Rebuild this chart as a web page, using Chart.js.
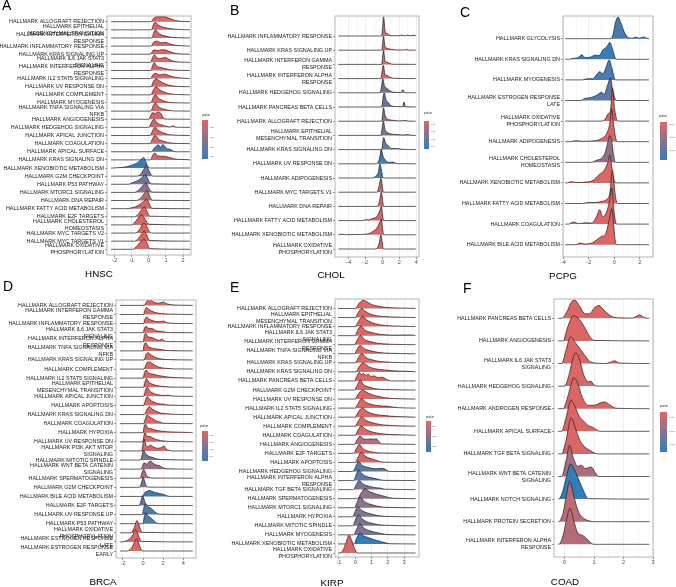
<!DOCTYPE html>
<html><head><meta charset="utf-8">
<script src="https://cdn.jsdelivr.net/npm/chart.js@4.4.1/dist/chart.umd.min.js"></script>
<style>
html,body{margin:0;padding:0;background:#fff;}
#fig{position:relative;width:676px;height:587px;overflow:hidden;font-family:'Liberation Sans',Arial,sans-serif;background:#fff;}
#fig canvas{position:absolute;}
.lt{position:absolute;font-size:14px;line-height:14px;color:#000;will-change:transform;}
.ttl{position:absolute;font-size:9.8px;line-height:9.8px;color:#000;transform:translate(-50%,-50%);white-space:nowrap;will-change:transform;}
.lgt{position:absolute;font-size:2.7px;line-height:2.7px;color:#222;white-space:nowrap;transform:translateY(-50%);will-change:transform;}
.lgl{position:absolute;font-size:2.2px;line-height:2.2px;color:#444;white-space:nowrap;transform:translateY(-50%);will-change:transform;}
.bar{position:absolute;}
</style></head><body><div id="fig"></div>
<script>
// ================= DATA =================
// ---- A : HNSC ----
const hnscLabels = ["HALLMARK ALLOGRAFT REJECTION","HALLMARK EPITHELIAL\nMESENCHYMAL TRANSITION","HALLMARK INTERFERON GAMMA\nRESPONSE","HALLMARK INFLAMMATORY RESPONSE","HALLMARK KRAS SIGNALING UP","HALLMARK IL6 JAK STAT3\nSIGNALING","HALLMARK INTERFERON ALPHA\nRESPONSE","HALLMARK IL2 STAT5 SIGNALING","HALLMARK UV RESPONSE DN","HALLMARK COMPLEMENT","HALLMARK MYOGENESIS","HALLMARK TNFA SIGNALING VIA\nNFKB","HALLMARK ANGIOGENESIS","HALLMARK HEDGEHOG SIGNALING","HALLMARK APICAL JUNCTION","HALLMARK COAGULATION","HALLMARK APICAL SURFACE","HALLMARK KRAS SIGNALING DN","HALLMARK XENOBIOTIC METABOLISM","HALLMARK G2M CHECKPOINT","HALLMARK P53 PATHWAY","HALLMARK MTORC1 SIGNALING","HALLMARK DNA REPAIR","HALLMARK FATTY ACID METABOLISM","HALLMARK E2F TARGETS","HALLMARK CHOLESTEROL\nHOMEOSTASIS","HALLMARK MYC TARGETS V2","HALLMARK MYC TARGETS V1","HALLMARK OXIDATIVE\nPHOSPHORYLATION"];
const hnscPvalue = [0.004,0.004,0.005,0.004,0.005,0.005,0.005,0.004,0.005,0.004,0.005,0.005,0.006,0.006,0.005,0.005,0.036,0.006,0.042,0.028,0.027,0.02,0.012,0.005,0.004,0.005,0.004,0.004,0.004];
const hnscRidges = [
 [[0.12,0],[0.3,0.45],[0.45,0.6],[0.7,0.62],[0.95,0.6],[1.15,0.45],[1.4,0.25],[1.7,0.08],[2.1,0.02]],
 [[0.15,0],[0.28,0.7],[0.38,0.92],[0.55,0.6],[0.8,0.35],[1.1,0.2],[1.5,0.08],[2.0,0.02]],
 [[0.18,0],[0.3,0.75],[0.4,0.98],[0.52,0.7],[0.75,0.35],[1.0,0.22],[1.4,0.06]],
 [[0.12,0],[0.3,0.5],[0.5,0.6],[0.7,0.4],[0.95,0.45],[1.2,0.3],[1.5,0.12],[2.0,0.03]],
 [[0.08,0],[0.3,0.55],[0.5,0.45],[0.75,0.55],[1.0,0.5],[1.25,0.3],[1.6,0.08],[2.0,0.02]],
 [[0.1,0],[0.22,0.6],[0.32,0.92],[0.45,0.6],[0.65,0.45],[0.95,0.6],[1.15,0.4],[1.4,0.15],[1.8,0.04]],
 [[0.12,0],[0.22,0.6],[0.32,0.95],[0.45,0.55],[0.7,0.38],[1.0,0.2],[1.4,0.05]],
 [[0.1,0],[0.25,0.5],[0.4,0.65],[0.6,0.45],[0.9,0.55],[1.15,0.4],[1.5,0.18],[1.9,0.06],[2.3,0.02]],
 [[0.12,0],[0.28,0.7],[0.42,0.98],[0.6,0.75],[0.85,0.45],[1.15,0.2],[1.6,0.05]],
 [[0.12,0],[0.28,0.65],[0.42,1.0],[0.6,0.65],[0.85,0.38],[1.2,0.14],[1.8,0.03]],
 [[0.12,0],[0.25,0.65],[0.38,1.0],[0.55,0.62],[0.8,0.3],[1.15,0.08],[1.5,0.02]],
 [[0.12,0],[0.25,0.65],[0.38,1.0],[0.55,0.55],[0.8,0.3],[1.15,0.1],[1.5,0.02]],
 [[0.0,0],[0.12,0.5],[0.22,0.8],[0.38,0.72],[0.55,0.9],[0.72,0.65],[0.85,0.15],[1.1,0.02]],
 [[0.0,0],[0.15,0.6],[0.3,1.0],[0.48,0.55],[0.75,0.3],[1.05,0.1],[1.3,0.06],[1.42,0.22],[1.52,0.03]],
 [[0.08,0],[0.22,0.6],[0.36,1.0],[0.55,0.62],[0.85,0.3],[1.2,0.1],[1.8,0.02]],
 [[0.08,0],[0.22,0.6],[0.36,1.0],[0.55,0.58],[0.85,0.3],[1.2,0.1],[1.7,0.02]],
 [[0.15,0],[0.3,0.4],[0.45,0.7],[0.56,0.85],[0.68,0.55],[0.82,0.9],[0.95,0.6],[1.1,0.35],[1.25,0.3],[1.4,0.1],[1.6,0]],
 [[0.1,0],[0.22,0.55],[0.35,0.85],[0.5,0.5],[0.7,0.45],[0.95,0.42],[1.2,0.3],[1.5,0.12],[1.9,0.05],[2.3,0.02]],
 [[-2.1,0],[-1.8,0.04],[-1.4,0.12],[-1.1,0.28],[-0.8,0.5],[-0.6,0.75],[-0.42,1.1],[-0.3,1.3],[-0.18,0.8],[-0.05,0.15],[0.1,0]],
 [[-0.7,0],[-0.45,0.3],[-0.28,0.9],[-0.14,1.27],[0.0,0.7],[0.15,0.12],[0.3,0]],
 [[-1.2,0],[-0.9,0.25],[-0.65,0.45],[-0.4,0.8],[-0.22,1.2],[-0.07,0.7],[0.12,0.05]],
 [[-0.85,0],[-0.55,0.35],[-0.32,0.9],[-0.17,1.2],[-0.02,0.6],[0.18,0.04]],
 [[-0.75,0],[-0.45,0.35],[-0.22,1.0],[-0.1,1.25],[0.04,0.6],[0.2,0.04]],
 [[-1.35,0],[-1.0,0.1],[-0.65,0.35],[-0.35,0.8],[-0.12,1.2],[0.02,0.6],[0.18,0.04]],
 [[-0.85,0],[-0.58,0.4],[-0.38,1.0],[-0.27,1.25],[-0.12,0.7],[0.05,0.08]],
 [[-1.0,0],[-0.75,0.5],[-0.52,1.1],[-0.4,1.25],[-0.22,0.7],[0.0,0.08]],
 [[-0.8,0],[-0.52,0.5],[-0.32,1.2],[-0.18,1.05],[-0.02,0.35],[0.15,0]],
 [[-0.85,0],[-0.58,0.4],[-0.38,1.0],[-0.27,1.25],[-0.12,0.7],[0.05,0.08]],
 [[-0.95,0],[-0.65,0.5],[-0.42,1.05],[-0.3,1.27],[-0.12,0.8],[0.05,0.08]]
];
const hnscSpan = [-2.2, 2.4];
const hnscXlim = [-2.44, 2.46];
const hnscTicks = [-2,-1,0,1,2];
const hnscPScale = [0.0024, 0.0425];
const hnscLegendTicks = [0.01,0.02,0.03,0.04];

// ---- B : CHOL ----
const cholLabels = ["HALLMARK INFLAMMATORY RESPONSE","HALLMARK KRAS SIGNALING UP","HALLMARK INTERFERON GAMMA\nRESPONSE","HALLMARK INTERFERON ALPHA\nRESPONSE","HALLMARK HEDGEHOG SIGNALING","HALLMARK PANCREAS BETA CELLS","HALLMARK ALLOGRAFT REJECTION","HALLMARK EPITHELIAL\nMESENCHYMAL TRANSITION","HALLMARK KRAS SIGNALING DN","HALLMARK UV RESPONSE DN","HALLMARK ADIPOGENESIS","HALLMARK MYC TARGETS V1","HALLMARK DNA REPAIR","HALLMARK FATTY ACID METABOLISM","HALLMARK XENOBIOTIC METABOLISM","HALLMARK OXIDATIVE\nPHOSPHORYLATION"];
const cholPvalue = [0.008,0.008,0.008,0.009,0.03,0.032,0.024,0.03,0.032,0.042,0.04,0.014,0.008,0.008,0.008,0.008];
const cholRidges = [
 [[-0.1,0],[0.04,0.8],[0.14,1.35],[0.26,0.5],[0.4,0.2],[0.6,0.18],[0.8,0.05],[1.2,0.02],[2.1,0.02],[2.25,0.07],[2.45,0.02],[2.8,0.02],[2.95,0.06],[3.15,0.02],[3.5,0.02],[3.8,0.07],[3.92,0.01]],
 [[-0.1,0],[0.04,0.6],[0.12,1.0],[0.28,0.3],[0.5,0.15],[0.8,0.08],[1.3,0.05],[1.6,0.02],[2.7,0.02],[2.85,0.06],[3.05,0.01]],
 [[-0.1,0],[0.04,0.7],[0.12,1.0],[0.28,0.3],[0.55,0.15],[0.9,0.06],[1.3,0.01]],
 [[-0.2,0],[-0.02,0.6],[0.1,0.95],[0.28,0.3],[0.55,0.22],[0.85,0.1],[1.5,0.02]],
 [[-0.3,0],[-0.08,0.6],[0.04,1.0],[0.22,0.5],[0.45,0.35],[0.8,0.18],[1.2,0.05],[2.2,0.02],[2.42,0.22],[2.6,0.01]],
 [[-0.1,0],[0.08,0.7],[0.2,1.0],[0.42,0.5],[0.7,0.3],[1.0,0.1],[1.5,0.03],[2.4,0.02],[2.55,0.35],[2.72,0.01]],
 [[-0.1,0],[0.04,0.6],[0.12,0.95],[0.3,0.4],[0.6,0.15],[1.0,0.08],[1.5,0.05],[2.0,0.02],[2.8,0.05],[3.0,0.01]],
 [[-0.2,0],[-0.02,0.6],[0.1,1.0],[0.3,0.4],[0.6,0.2],[1.0,0.1],[1.5,0.06],[2.0,0.05],[2.5,0.02],[3.0,0.06],[3.3,0.01]],
 [[-0.1,0],[0.05,0.6],[0.15,0.85],[0.35,0.5],[0.6,0.3],[0.8,0.2],[1.0,0.08],[1.5,0.07],[2.0,0.06],[2.3,0.02]],
 [[-0.65,0],[-0.35,0.4],[-0.15,1.0],[0.08,0.5],[0.3,0.3],[0.5,0.15],[0.8,0.1],[1.2,0.12],[1.5,0.05],[1.8,0.01]],
 [[-1.3,0],[-0.85,0.1],[-0.5,0.4],[-0.3,1.0],[-0.15,0.6],[0.0,0.1],[0.15,0]],
 [[-0.65,0],[-0.38,0.5],[-0.2,1.0],[-0.05,0.5],[0.1,0]],
 [[-0.6,0],[-0.35,0.4],[-0.15,1.0],[0.0,0.5],[0.12,0]],
 [[-2.3,0],[-1.95,0.08],[-1.6,0.05],[-1.2,0.15],[-0.85,0.2],[-0.55,0.4],[-0.32,0.7],[-0.15,1.0],[0.0,0.4],[0.12,0]],
 [[-5.2,0],[-4.9,0.05],[-4.5,0.01],[-3.0,0.02],[-1.6,0.08],[-1.25,0.2],[-0.85,0.35],[-0.55,0.6],[-0.32,0.9],[-0.15,1.1],[0.0,0.5],[0.12,0]],
 [[-1.0,0],[-0.6,0.1],[-0.4,0.4],[-0.2,1.0],[-0.05,0.5],[0.1,0]]
];
const cholSpan = [-5.25, 3.95];
const cholXlim = [-5.64, 4.33];
const cholTicks = [-4,-2,0,2,4];
const cholPScale = [0.006, 0.044];
const cholLegendTicks = [0.01,0.02,0.03,0.04];

// ---- C : PCPG ----
const pcpgLabels = ["HALLMARK GLYCOLYSIS","HALLMARK KRAS SIGNALING DN","HALLMARK MYOGENESIS","HALLMARK ESTROGEN RESPONSE\nLATE","HALLMARK OXIDATIVE\nPHOSPHORYLATION","HALLMARK ADIPOGENESIS","HALLMARK CHOLESTEROL\nHOMEOSTASIS","HALLMARK XENOBIOTIC METABOLISM","HALLMARK FATTY ACID METABOLISM","HALLMARK COAGULATION","HALLMARK BILE ACID METABOLISM"];
const pcpgPvalue = [0.0034,0.0037,0.0034,0.0031,0.0009,0.0009,0.0022,0.0009,0.0009,0.0009,0.0009];
const pcpgRidges = [
 [[-0.3,0],[-0.1,0.2],[0.1,0.8],[0.3,1.05],[0.5,0.8],[0.8,0.3],[1.1,0.05],[1.4,0.02],[1.7,0.08],[1.95,0.02],[2.3,0.08],[2.6,0.01]],
 [[-3.6,0],[-3.2,0.05],[-2.85,0.08],[-2.55,0.22],[-2.3,0.08],[-1.9,0.1],[-1.5,0.2],[-1.2,0.18],[-0.9,0.45],[-0.6,0.6],[-0.35,0.82],[-0.15,0.5],[0.05,0.1],[0.2,0]],
 [[-2.5,0],[-2.1,0.06],[-1.7,0.05],[-1.4,0.25],[-1.15,0.4],[-0.9,0.3],[-0.6,0.7],[-0.4,0.97],[-0.2,0.6],[0,0.1],[0.1,0]],
 [[-2.7,0],[-2.3,0.1],[-1.8,0.15],[-1.4,0.25],[-1.0,0.4],[-0.8,0.3],[-0.5,0.8],[-0.3,1.1],[-0.15,0.6],[0.05,0.1],[0.2,0]],
 [[-1.0,0],[-0.7,0.1],[-0.5,0.35],[-0.3,0.5],[-0.15,1.6],[-0.02,0.8],[0.1,0.3],[0.25,0]],
 [[-3.5,0],[-3.0,0.05],[-2.5,0.02],[-1.5,0.05],[-1.0,0.15],[-0.6,0.4],[-0.35,0.9],[-0.2,1.6],[-0.05,0.8],[0.1,0.2],[0.25,0]],
 [[-1.8,0],[-1.4,0.1],[-1.0,0.2],[-0.7,0.5],[-0.5,1.0],[-0.35,1.3],[-0.2,1.0],[-0.05,0.3],[0.1,0]],
 [[-3.7,0],[-3.4,0.06],[-3.0,0.02],[-2.0,0.05],[-1.5,0.2],[-1.2,0.4],[-0.8,0.6],[-0.5,1.0],[-0.35,1.35],[-0.2,0.8],[-0.05,0.2],[0.1,0]],
 [[-2.5,0],[-2,0.05],[-1.5,0.05],[-1.0,0.1],[-0.6,0.2],[-0.35,0.5],[-0.15,1.6],[0,0.8],[0.1,0.3],[0.25,0]],
 [[-3.6,0],[-3.2,0.1],[-2.8,0.02],[-2.3,0.06],[-1.8,0.05],[-1.4,0.35],[-1.15,0.7],[-0.9,0.35],[-0.6,0.6],[-0.35,1.2],[-0.2,1.75],[-0.05,0.8],[0.1,0.1],[0.2,0]],
 [[-3.0,0],[-2.7,0.08],[-2.3,0.03],[-1.7,0.1],[-1.35,0.25],[-1.0,0.4],[-0.7,0.5],[-0.4,1.2],[-0.2,1.75],[-0.05,0.9],[0.1,0.1],[0.2,0]]
];
const pcpgSpan = [-3.85, 2.73];
const pcpgXlim = [-4.03, 3.04];
const pcpgTicks = [-4,-2,0,2];
const pcpgPScale = [0.0008, 0.0038];
const pcpgLegendTicks = [0.001,0.002,0.003];

// ---- D : BRCA ----
const brcaLabels = ["HALLMARK ALLOGRAFT REJECTION","HALLMARK INTERFERON GAMMA\nRESPONSE","HALLMARK INFLAMMATORY RESPONSE","HALLMARK IL6 JAK STAT3\nSIGNALING","HALLMARK INTERFERON ALPHA\nRESPONSE","HALLMARK TNFA SIGNALING VIA\nNFKB","HALLMARK KRAS SIGNALING UP","HALLMARK COMPLEMENT","HALLMARK IL2 STAT5 SIGNALING","HALLMARK EPITHELIAL\nMESENCHYMAL TRANSITION","HALLMARK APICAL JUNCTION","HALLMARK APOPTOSIS","HALLMARK KRAS SIGNALING DN","HALLMARK COAGULATION","HALLMARK HYPOXIA","HALLMARK UV RESPONSE DN","HALLMARK PI3K AKT MTOR\nSIGNALING","HALLMARK MITOTIC SPINDLE","HALLMARK WNT BETA CATENIN\nSIGNALING","HALLMARK SPERMATOGENESIS","HALLMARK G2M CHECKPOINT","HALLMARK BILE ACID METABOLISM","HALLMARK E2F TARGETS","HALLMARK UV RESPONSE UP","HALLMARK P53 PATHWAY","HALLMARK OXIDATIVE\nPHOSPHORYLATION","HALLMARK ESTROGEN RESPONSE\nLATE","HALLMARK ESTROGEN RESPONSE\nEARLY"];
const brcaPvalue = [0.004,0.004,0.004,0.004,0.004,0.004,0.004,0.004,0.004,0.004,0.004,0.004,0.004,0.004,0.004,0.005,0.005,0.028,0.02,0.012,0.027,0.043,0.033,0.038,0.038,0.004,0.004,0.004];
const brcaRidges = [
 [[0.1,0],[0.35,0.4],[0.65,0.66],[0.9,0.45],[1.2,0.3],[1.5,0.25],[1.8,0.3],[2.05,0.38],[2.3,0.2],[2.8,0.08],[3.5,0.03],[4.5,0.01]],
 [[0.05,0],[0.2,0.5],[0.35,0.77],[0.6,0.55],[0.9,0.35],[1.3,0.2],[1.8,0.1],[2.5,0.05],[4,0.01]],
 [[0.05,0],[0.2,0.5],[0.35,0.73],[0.6,0.5],[1.0,0.3],[1.5,0.2],[2.0,0.27],[2.4,0.1],[3,0.03]],
 [[0.0,0],[0.15,0.5],[0.3,0.7],[0.5,0.5],[0.9,0.45],[1.3,0.2],[1.8,0.15],[2.2,0.05],[2.8,0.01]],
 [[0,0],[0.15,0.7],[0.25,0.95],[0.45,0.6],[0.9,0.45],[1.3,0.25],[1.6,0.15],[1.9,0.28],[2.1,0.1],[2.5,0.02]],
 [[0,0],[0.1,0.6],[0.25,0.9],[0.5,0.5],[0.9,0.3],[1.4,0.2],[2.0,0.1],[2.5,0.03]],
 [[0.1,0],[0.3,0.6],[0.5,0.8],[0.8,0.55],[1.2,0.3],[1.6,0.15],[2.2,0.05]],
 [[0.1,0],[0.35,0.6],[0.6,0.8],[0.9,0.6],[1.3,0.35],[1.8,0.15],[2.3,0.08],[3,0.02]],
 [[0,0],[0.15,0.6],[0.3,0.9],[0.5,0.6],[0.9,0.45],[1.5,0.3],[2.5,0.12],[3.5,0.05],[4.5,0.02]],
 [[0.05,0],[0.2,0.6],[0.35,0.95],[0.55,0.6],[0.9,0.35],[1.3,0.2],[2,0.08],[2.8,0.02]],
 [[0.05,0],[0.25,0.7],[0.42,1.0],[0.65,0.6],[1.0,0.35],[1.4,0.2],[2,0.1],[2.5,0.12],[3,0.03]],
 [[0.05,0],[0.25,0.6],[0.42,0.95],[0.7,0.6],[1.0,0.4],[1.5,0.2],[2.0,0.15],[2.5,0.05]],
 [[0.15,0],[0.4,0.6],[0.65,0.88],[0.9,0.6],[1.3,0.35],[1.8,0.15],[2.3,0.1],[3,0.03]],
 [[0.05,0],[0.25,0.6],[0.42,0.95],[0.7,0.7],[1.0,0.5],[1.3,0.3],[1.6,0.2],[2,0.05]],
 [[0,0],[0.1,0.6],[0.25,0.95],[0.45,0.55],[0.8,0.45],[1.2,0.3],[2,0.15],[3,0.08],[4.5,0.03]],
 [[-0.05,0],[0.1,0.7],[0.2,1.0],[0.4,0.6],[0.7,0.6],[1.0,0.4],[1.5,0.2],[2,0.1],[2.5,0.05]],
 [[-0.15,0],[0,0.8],[0.1,1.3],[0.3,0.6],[0.5,0.45],[0.72,0.65],[1.0,0.45],[1.4,0.3],[1.8,0.35],[2.08,0.55],[2.3,0.2],[2.6,0.05],[3,0]],
 [[-0.25,0],[-0.1,0.5],[0.05,1.1],[0.25,0.7],[0.5,0.45],[0.9,0.3],[1.3,0.15],[1.8,0.05]],
 [[-0.2,0],[0,0.5],[0.15,0.7],[0.35,0.55],[0.6,0.8],[0.75,0.9],[1.0,0.65],[1.3,0.45],[1.6,0.4],[1.9,0.2],[2.3,0.05]],
 [[-0.3,0],[-0.1,0.6],[0.05,1.0],[0.2,0.7],[0.35,0.3],[0.6,0.1],[0.9,0.02]],
 [[-0.35,0],[-0.15,0.5],[0,1.1],[0.15,0.7],[0.3,0.2],[0.5,0.02]],
 [[0,0],[0.15,0.4],[0.35,0.55],[0.65,0.66],[0.9,0.55],[1.3,0.4],[1.7,0.3],[2.1,0.2],[2.4,0.05],[2.8,0]],
 [[-0.4,0],[-0.2,0.5],[-0.05,1.1],[0.1,0.7],[0.25,0.2],[0.45,0]],
 [[-0.1,0],[0.1,0.8],[0.25,1.2],[0.45,0.9],[0.7,0.75],[1.0,0.5],[1.3,0.2],[1.6,0.05]],
 [[0,0],[0.1,0.6],[0.25,1.2],[0.45,0.9],[0.7,0.7],[1.0,0.4],[1.3,0.1],[1.6,0]],
 [[-1.2,0],[-0.9,0.5],[-0.6,1.35],[-0.45,1.0],[-0.3,0.5],[-0.1,0.05]],
 [[-2.1,0],[-1.7,0.1],[-1.3,0.35],[-1.0,0.8],[-0.75,1.35],[-0.55,1.0],[-0.35,0.4],[-0.15,0.05]],
 [[-1.6,0],[-1.3,0.15],[-1.0,0.6],[-0.8,1.1],[-0.62,1.35],[-0.45,0.9],[-0.25,0.3],[-0.05,0]]
];
const brcaSpan = [-2.3, 4.95];
const brcaXlim = [-2.69, 5.27];
const brcaTicks = [-2,0,2,4];
const brcaPScale = [0.003, 0.046];
const brcaLegendTicks = [0.01,0.02,0.03,0.04];

// ---- E : KIRP ----
const kirpLabels = ["HALLMARK ALLOGRAFT REJECTION","HALLMARK EPITHELIAL\nMESENCHYMAL TRANSITION","HALLMARK INFLAMMATORY RESPONSE","HALLMARK IL6 JAK STAT3\nSIGNALING","HALLMARK INTERFERON GAMMA\nRESPONSE","HALLMARK TNFA SIGNALING VIA\nNFKB","HALLMARK KRAS SIGNALING UP","HALLMARK KRAS SIGNALING DN","HALLMARK PANCREAS BETA CELLS","HALLMARK G2M CHECKPOINT","HALLMARK UV RESPONSE DN","HALLMARK IL2 STAT5 SIGNALING","HALLMARK APICAL JUNCTION","HALLMARK COMPLEMENT","HALLMARK COAGULATION","HALLMARK ANGIOGENESIS","HALLMARK E2F TARGETS","HALLMARK APOPTOSIS","HALLMARK HEDGEHOG SIGNALING","HALLMARK INTERFERON ALPHA\nRESPONSE","HALLMARK TGF BETA SIGNALING","HALLMARK SPERMATOGENESIS","HALLMARK MTORC1 SIGNALING","HALLMARK HYPOXIA","HALLMARK MITOTIC SPINDLE","HALLMARK MYOGENESIS","HALLMARK XENOBIOTIC METABOLISM","HALLMARK OXIDATIVE\nPHOSPHORYLATION"];
const kirpPvalue = [0.005,0.005,0.005,0.005,0.005,0.005,0.005,0.005,0.005,0.005,0.005,0.005,0.005,0.005,0.005,0.013,0.006,0.006,0.029,0.029,0.023,0.019,0.02,0.022,0.023,0.022,0.037,0.005];
const kirpRidges = [
 [[0,0],[0.25,0.6],[0.5,0.92],[0.75,0.7],[1.0,0.45],[1.4,0.25],[2,0.1],[3,0.04],[3.6,0.02]],
 [[0,0],[0.2,0.6],[0.4,1.0],[0.6,0.7],[0.9,0.4],[1.3,0.2],[2,0.08],[3,0.03]],
 [[0,0],[0.2,0.6],[0.45,1.1],[0.7,0.75],[1.0,0.45],[1.5,0.2],[2.2,0.08],[3,0.03]],
 [[0,0],[0.15,0.6],[0.35,1.07],[0.6,0.6],[1.0,0.35],[1.5,0.15],[2.5,0.06],[3.4,0.08],[3.65,0.02]],
 [[-0.05,0],[0.15,0.6],[0.32,1.03],[0.55,0.6],[0.9,0.35],[1.4,0.15],[2.2,0.05]],
 [[-0.05,0],[0.12,0.5],[0.3,0.92],[0.55,0.55],[0.9,0.35],[1.4,0.15],[2.2,0.05]],
 [[0,0],[0.2,0.6],[0.4,1.03],[0.65,0.6],[1.0,0.35],[1.5,0.15],[2.3,0.05]],
 [[0.05,0],[0.25,0.6],[0.5,1.0],[0.8,0.6],[1.2,0.35],[1.8,0.2],[2.5,0.1],[3.5,0.04]],
 [[-0.05,0],[0.1,0.5],[0.25,0.96],[0.38,0.7],[0.5,0.85],[0.65,0.6],[0.8,0.75],[0.95,0.5],[1.2,0.55],[1.4,0.35],[1.6,0.4],[1.8,0.3],[2.0,0.1],[2.2,0]],
 [[-0.05,0],[0.15,0.6],[0.3,1.1],[0.5,0.6],[0.8,0.35],[1.2,0.15],[1.8,0.05]],
 [[0,0],[0.2,0.6],[0.45,1.0],[0.7,0.75],[1.0,0.5],[1.4,0.3],[1.8,0.15],[2.4,0.05]],
 [[0,0],[0.2,0.6],[0.4,1.03],[0.65,0.65],[1.0,0.4],[1.5,0.25],[2.0,0.2],[2.6,0.05]],
 [[0,0],[0.2,0.6],[0.45,1.03],[0.7,0.65],[1.0,0.4],[1.4,0.25],[1.7,0.2],[2.2,0.1],[3,0.04]],
 [[0,0],[0.2,0.6],[0.4,1.03],[0.65,0.65],[1.0,0.4],[1.5,0.2],[2,0.1],[2.5,0.05]],
 [[0,0],[0.18,0.6],[0.37,1.03],[0.6,0.7],[0.9,0.45],[1.3,0.25],[2,0.1],[3,0.04]],
 [[-0.05,0],[0.12,0.5],[0.3,0.92],[0.5,0.6],[0.7,0.55],[0.9,0.6],[1.1,0.55],[1.3,0.6],[1.45,0.3],[1.6,0.05]],
 [[-0.1,0],[0.1,0.6],[0.25,1.0],[0.45,0.55],[0.7,0.3],[1.0,0.15],[1.5,0.05]],
 [[0,0],[0.18,0.6],[0.37,1.14],[0.6,0.7],[0.9,0.45],[1.2,0.3],[1.5,0.1],[1.8,0.03]],
 [[-0.15,0],[0.05,0.6],[0.2,1.14],[0.4,0.7],[0.7,0.5],[1.0,0.35],[1.3,0.3],[1.6,0.35],[1.8,0.3],[1.95,0.1],[2.1,0]],
 [[-0.1,0],[0.05,0.6],[0.22,1.18],[0.4,0.75],[0.7,0.45],[1.0,0.3],[1.3,0.2],[1.5,0.1],[1.8,0.02]],
 [[-0.1,0],[0.08,0.6],[0.25,1.0],[0.45,0.65],[0.7,0.45],[1.0,0.3],[1.3,0.2],[1.6,0.15],[1.8,0.05]],
 [[0.15,0],[0.35,0.6],[0.6,1.1],[0.85,0.8],[1.2,0.55],[1.6,0.35],[1.9,0.2],[2.3,0.05]],
 [[-0.05,0],[0.12,0.6],[0.3,1.18],[0.55,0.7],[0.9,0.4],[1.3,0.2],[1.8,0.05]],
 [[-0.15,0],[0,0.6],[0.15,1.1],[0.4,0.7],[0.7,0.45],[1.1,0.25],[1.5,0.1],[2,0.03]],
 [[-0.15,0],[0,0.6],[0.2,1.25],[0.4,0.8],[0.7,0.45],[1.1,0.25],[1.6,0.08]],
 [[-0.1,0],[0.08,0.6],[0.28,1.25],[0.5,0.8],[0.8,0.5],[1.2,0.3],[1.6,0.15],[2,0.03]],
 [[-0.05,0],[0.08,0.6],[0.3,1.2],[0.5,0.9],[0.8,0.7],[1.1,0.5],[1.5,0.3],[1.8,0.15],[2.1,0.02]],
 [[-0.95,0],[-0.75,0.3],[-0.55,1.2],[-0.38,1.95],[-0.2,1.3],[-0.05,0.5],[0.1,0.05],[0.2,0]]
];
const kirpSpan = [-1.05, 3.7];
const kirpXlim = [-1.24, 3.91];
const kirpTicks = [-1,0,1,2,3];
const kirpPScale = [0.004, 0.037];
const kirpLegendTicks = [0.01,0.02,0.03];

// ---- F : COAD ----
const coadLabels = ["HALLMARK PANCREAS BETA CELLS","HALLMARK ANGIOGENESIS","HALLMARK IL6 JAK STAT3\nSIGNALING","HALLMARK HEDGEHOG SIGNALING","HALLMARK ANDROGEN RESPONSE","HALLMARK APICAL SURFACE","HALLMARK TGF BETA SIGNALING","HALLMARK WNT BETA CATENIN\nSIGNALING","HALLMARK NOTCH SIGNALING","HALLMARK PROTEIN SECRETION","HALLMARK INTERFERON ALPHA\nRESPONSE"];
const coadPvalue = [0.0007,0.0007,0.0007,0.0007,0.0007,0.0007,0.0007,0.0015,0.0036,0.0012,0.00135];
const coadRidges = [
 [[-0.1,0],[0.1,0.35],[0.22,0.7],[0.34,0.81],[0.5,0.55],[0.7,0.2],[0.85,0.2],[1.0,0.45],[1.17,0.57],[1.3,0.4],[1.45,0.22],[1.6,0.08],[1.9,0.02],[2.3,0.01],[2.45,0.1],[2.55,0.15],[2.7,0.03],[2.85,0]],
 [[-0.05,0],[0.1,0.6],[0.3,1.12],[0.5,0.95],[0.7,0.55],[0.85,0.2],[1.0,0.02]],
 [[-0.1,0],[0.05,0.6],[0.2,1.18],[0.38,0.9],[0.55,0.6],[0.75,0.25],[0.9,0.05],[1.4,0],[1.55,0.05],[1.7,0.12],[1.85,0.02]],
 [[0,0],[0.15,0.5],[0.3,1.3],[0.38,1.47],[0.5,1.2],[0.65,0.5],[0.8,0.2],[0.9,0.2],[1.0,0.05],[1.1,0]],
 [[-0.05,0],[0.1,0.5],[0.25,1.2],[0.32,1.37],[0.45,1.1],[0.6,0.5],[0.8,0.15],[1.0,0.15],[1.2,0.25],[1.35,0.3],[1.55,0.15],[1.75,0.02]],
 [[-0.1,0],[0.05,0.6],[0.22,1.38],[0.35,1.1],[0.5,0.65],[0.65,0.45],[0.8,0.25],[0.95,0.18],[1.1,0.05],[1.2,0]],
 [[-0.1,0],[0.05,0.6],[0.22,1.6],[0.35,1.2],[0.5,0.65],[0.65,0.35],[0.8,0.2],[1.0,0.05],[1.1,0]],
 [[-0.1,0],[0.05,0.7],[0.17,1.38],[0.3,0.8],[0.45,0.45],[0.57,0.5],[0.7,0.35],[0.9,0.42],[1.05,0.15],[1.15,0]],
 [[-0.2,0],[-0.05,0.4],[0.1,1.2],[0.2,1.55],[0.35,1.25],[0.5,0.8],[0.65,0.35],[0.8,0.02]],
 [[-0.2,0],[-0.05,0.4],[0.08,1.3],[0.17,1.8],[0.3,1.2],[0.45,0.5],[0.6,0.2],[0.8,0.05],[1.0,0]],
 [[-0.2,0],[-0.05,0.4],[0.1,1.3],[0.18,1.6],[0.3,1.1],[0.45,0.5],[0.6,0.4],[0.75,0.25],[0.9,0.05],[1.0,0]]
];
const coadSpan = [-0.22, 2.88];
const coadXlim = [-0.36, 3.0];
const coadTicks = [0,1,2,3];
const coadPScale = [0.0006, 0.0036];
const coadLegendTicks = [0.001,0.002,0.003];

// ================= LAYOUT (positions / styles) =================
const LOW = [224,102,99], HIGH = [50,126,186];
const panels = [
 {letter:'A', title:'HNSC', labels:hnscLabels, pvalue:hnscPvalue, ridges:hnscRidges, span:hnscSpan, xlim:hnscXlim, ticks:hnscTicks, minor:0.5, pscale:hnscPScale, lticks:hnscLegendTicks,
  g:{left:0, top:8, L:107, T:16, R:191, B:255, y0:21.7, y1:249.3}, letterPos:[2,-2], titlePos:[99,274],
  leg:{tx:201.7, ty:116.3, bx:202, by:120, bw:6.3, bh:38.7, lx:209.5}},
 {letter:'B', title:'CHOL', labels:cholLabels, pvalue:cholPvalue, ridges:cholRidges, span:cholSpan, xlim:cholXlim, ticks:cholTicks, minor:1, pscale:cholPScale, lticks:cholLegendTicks,
  g:{left:225, top:8, L:335, T:16, R:419, B:257, y0:36, y1:249}, letterPos:[229.5,3.2], titlePos:[331,275],
  leg:{tx:424, ty:113.7, bx:423.5, by:120.7, bw:5.3, bh:28.3, lx:430.5}},
 {letter:'C', title:'PCPG', labels:pcpgLabels, pvalue:pcpgPvalue, ridges:pcpgRidges, span:pcpgSpan, xlim:pcpgXlim, ticks:pcpgTicks, minor:1, pscale:pcpgPScale, lticks:pcpgLegendTicks,
  g:{left:450, top:8, L:563, T:16, R:653, B:257, y0:38.7, y1:244.7}, letterPos:[460,4.9], titlePos:[563.3,275.7],
  leg:{tx:659.3, ty:117.3, bx:660, by:121.7, bw:6.7, bh:38.3, lx:669}},
 {letter:'D', title:'BRCA', labels:brcaLabels, pvalue:brcaPvalue, ridges:brcaRidges, span:brcaSpan, xlim:brcaXlim, ticks:brcaTicks, minor:1, pscale:brcaPScale, lticks:brcaLegendTicks,
  g:{left:0, top:292, L:116, T:300, R:196, B:558, y0:305.4, y1:551}, letterPos:[2.5,279.2], titlePos:[103.3,581.7],
  leg:{tx:200, ty:426.5, bx:201.5, by:430.5, bw:6.3, bh:30, lx:209}},
 {letter:'E', title:'KIRP', labels:kirpLabels, pvalue:kirpPvalue, ridges:kirpRidges, span:kirpSpan, xlim:kirpXlim, ticks:kirpTicks, minor:0.5, pscale:kirpPScale, lticks:kirpLegendTicks,
  g:{left:225, top:291, L:335, T:299, R:419, B:557, y0:308.5, y1:553}, letterPos:[230,279.9], titlePos:[331.7,583.3],
  leg:{tx:425.7, ty:417.5, bx:425.7, by:420.7, bw:5, bh:31.6, lx:432}},
 {letter:'F', title:'COAD', labels:coadLabels, pvalue:coadPvalue, ridges:coadRidges, span:coadSpan, xlim:coadXlim, ticks:coadTicks, minor:0.5, pscale:coadPScale, lticks:coadLegendTicks,
  g:{left:450, top:291, L:554, T:299, R:653, B:557, y0:318.3, y1:544.3}, letterPos:[462.5,281], titlePos:[565,581.7],
  leg:{tx:660, ty:407.3, bx:660, by:411.7, bw:7.3, bh:40.6, lx:669.3}}
];

// label font calibration: target width of "HALLMARK ALLOGRAFT REJECTION" = 95px
const probe = document.createElement('canvas').getContext('2d');
function mw(f){ probe.font = f; return probe.measureText('HALLMARK ALLOGRAFT REJECTION').width; }
let labelFamily = "'Liberation Sans Narrow'";
const wn = mw("100px 'Liberation Sans Narrow', monospace"), wm = mw("100px monospace");
let labelSize;
if (Math.abs(wn - wm) > 1) { labelSize = 95 / wn * 100; }
else { labelFamily = "'Liberation Sans'"; labelSize = 95 / mw("100px 'Liberation Sans'") * 100; }

function colorFor(p, sc){
  let t = (p - sc[0]) / (sc[1] - sc[0]); t = Math.max(0, Math.min(1, t));
  const c = LOW.map((v,i)=>Math.round(v + (HIGH[i]-v)*t));
  return 'rgb(' + c.join(',') + ')';
}
const near = (a,b)=>Math.abs(a-b)<1e-6;

const framePlugin = {id:'frame', afterDraw(chart){
  const {ctx, chartArea:a} = chart; ctx.save(); ctx.strokeStyle = '#a3a3a3'; ctx.lineWidth = 0.8;
  ctx.strokeRect(a.left, a.top, a.right - a.left, a.bottom - a.top); ctx.restore(); }};

const fig = document.getElementById('fig');
const XAXIS_H = 12, PAD_R = 4;

panels.forEach(P => {
  const g = P.g, n = P.labels.length;
  const sp = (g.y1 - g.y0) / (n - 1);
  const ymax = (n - 1) + (g.y0 - g.T) / sp;
  const ymin = -(g.B - g.y1) / sp;
  const W = g.R + PAD_R - g.left, H = g.B + XAXIS_H - g.top;
  const cv = document.createElement('canvas');
  cv.width = W; cv.height = H; cv.style.left = g.left + 'px'; cv.style.top = g.top + 'px';
  cv.style.width = W + 'px'; cv.style.height = H + 'px';
  fig.appendChild(cv);

  const datasets = [];
  for (let i = n - 1; i >= 0; i--) {           // bottom row first -> drawn on top
    const base = n - 1 - i;
    const pts = [{x:P.span[0], y:base}]
      .concat(P.ridges[i].map(p => ({x:p[0], y:base + p[1]})))
      .concat([{x:P.span[1], y:base}]);
    datasets.push({data:pts, borderColor:'#1c1c1c', borderWidth:0.7, backgroundColor:colorFor(P.pvalue[i], P.pscale),
      fill:{value:base}, pointRadius:0, cubicInterpolationMode:'monotone'});
  }
  const xt = [];
  for (let v = Math.ceil(P.xlim[0] / P.minor) * P.minor; v <= P.xlim[1] + 1e-9; v += P.minor) xt.push(Math.round(v * 1000) / 1000);
  const isMajor = v => P.ticks.some(t => near(t, v));

  new Chart(cv, {
    type:'line',
    data:{datasets},
    options:{
      animation:false, responsive:false, maintainAspectRatio:false, devicePixelRatio:1, events:[],
      layout:{padding:{left:0, top:g.T - g.top, right:PAD_R, bottom:0}},
      plugins:{legend:{display:false}, tooltip:{enabled:false}},
      scales:{
        x:{type:'linear', min:P.xlim[0], max:P.xlim[1],
          afterBuildTicks:s => { s.ticks = xt.map(v => ({value:v})); },
          afterFit:s => { s.height = XAXIS_H; s.paddingLeft = 0; s.paddingRight = 0; },
          ticks:{autoSkip:false, maxRotation:0, padding:0, color:'#4d4d4d',
            font:{family:"'Liberation Sans'", size:5.6},
            callback:v => isMajor(v) ? String(v) : ''},
          grid:{drawTicks:true, tickLength:2, lineWidth:0.6,
            color:c => isMajor(c.tick.value) ? '#e2e2e2' : '#f0f0f0',
            tickColor:c => isMajor(c.tick.value) ? '#444' : 'rgba(0,0,0,0)'},
          border:{display:false}},
        y:{type:'linear', min:ymin, max:ymax,
          afterBuildTicks:s => { s.ticks = P.labels.map((_, i) => ({value:n - 1 - i})); },
          afterFit:s => { s.width = g.L - g.left; s.paddingTop = 0; s.paddingBottom = 0; },
          ticks:{autoSkip:false, padding:1, color:'#1a1a1a',
            font:{family:labelFamily, size:labelSize, lineHeight:'7px'},
            callback:v => P.labels[n - 1 - Math.round(v)].split('\n')},
          grid:{drawOnChartArea:false, drawTicks:true, tickLength:2, tickColor:'#444', lineWidth:0.6},
          border:{display:false}}
      }
    },
    plugins:[framePlugin]
  });

  // panel letter
  const lt = document.createElement('div'); lt.className = 'lt'; lt.textContent = P.letter;
  lt.style.left = P.letterPos[0] + 'px'; lt.style.top = P.letterPos[1] + 'px'; fig.appendChild(lt);
  // title
  const tt = document.createElement('div'); tt.className = 'ttl'; tt.textContent = P.title;
  tt.style.left = P.titlePos[0] + 'px'; tt.style.top = P.titlePos[1] + 'px'; fig.appendChild(tt);
  // legend
  const L = P.leg;
  const lg = document.createElement('div'); lg.className = 'lgt'; lg.textContent = 'pvalue';
  lg.style.left = L.tx + 'px'; lg.style.top = L.ty + 'px'; fig.appendChild(lg);
  const bar = document.createElement('div'); bar.className = 'bar';
  bar.style.left = L.bx + 'px'; bar.style.top = L.by + 'px'; bar.style.width = L.bw + 'px'; bar.style.height = L.bh + 'px';
  bar.style.background = 'linear-gradient(' + colorFor(P.pscale[0], P.pscale) + ',' + colorFor(P.pscale[1], P.pscale) + ')';
  fig.appendChild(bar);
  P.lticks.forEach(v => {
    const y = L.by + (v - P.pscale[0]) / (P.pscale[1] - P.pscale[0]) * L.bh;
    const d = document.createElement('div'); d.className = 'lgl'; d.textContent = String(v);
    d.style.left = L.lx + 'px'; d.style.top = y + 'px'; fig.appendChild(d);
  });
});
</script></body></html>
